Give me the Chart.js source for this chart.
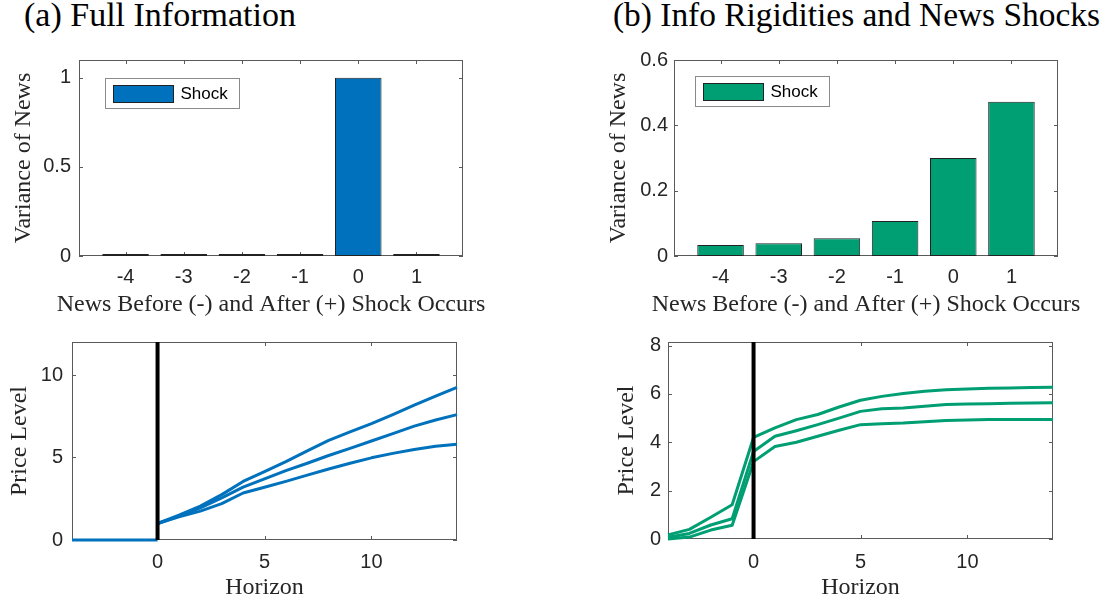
<!DOCTYPE html>
<html>
<head>
<meta charset="utf-8">
<script src="https://cdn.jsdelivr.net/npm/chart.js@4.4.1/dist/chart.umd.min.js"></script>
<style>
  html, body { margin: 0; padding: 0; background: #fff; }
  #fig { position: relative; width: 1109px; height: 603px; overflow: hidden; }
  #fig canvas { position: absolute; }
  .panel-title { position: absolute; top: -2px; font: 34px/1 "Liberation Serif", serif; color: #000; white-space: nowrap; }
</style>
</head>
<body>
<div id="fig">
  <div class="panel-title" style="left:24px">(a) Full Information</div>
  <div class="panel-title" style="left:613px; font-size:33.4px">(b) Info Rigidities and News Shocks</div>
  <canvas id="aTop" width="500" height="290" style="left:0;top:40px"></canvas>
  <canvas id="bTop" width="509" height="290" style="left:600px;top:40px"></canvas>
  <canvas id="aBottom" width="500" height="273" style="left:0;top:330px"></canvas>
  <canvas id="bBottom" width="509" height="273" style="left:600px;top:330px"></canvas>
</div>
<script>
// --- data ---
const NEWS_LAGS = [-4, -3, -2, -1, 0, 1];
const FULL_INFO_VARIANCE = [0, 0, 0, 0, 1, 0];
const RIGID_VARIANCE = [0.034, 0.039, 0.054, 0.107, 0.300, 0.472];

// full information: flat at zero before the shock, jumps at horizon 0
const FULL_PRE_HORIZON = [-4, -3, -2, -1, 0];
const FULL_PRE_PRICE = [0, 0, 0, 0, 0];
const FULL_POST_HORIZON = [0, 1, 2, 3, 4, 5, 6, 7, 8, 9, 10, 11, 12, 13, 14];
const FULL_HIGH = [1, 1.50, 2.05, 2.75, 3.55, 4.15, 4.75, 5.40, 6.04, 6.55, 7.05, 7.60, 8.17, 8.72, 9.25];
const FULL_MID = [1, 1.45, 1.95, 2.55, 3.20, 3.70, 4.20, 4.65, 5.12, 5.55, 6.00, 6.45, 6.90, 7.27, 7.60];
const FULL_LOW = [1, 1.40, 1.75, 2.20, 2.85, 3.20, 3.55, 3.93, 4.30, 4.65, 4.98, 5.25, 5.49, 5.68, 5.80];

// info rigidities: prices start moving before the shock
const RIGID_HORIZON = [-4, -3, -2, -1, 0, 1, 2, 3, 4, 5, 6, 7, 8, 9, 10, 11, 12, 13, 14];
const RIGID_HIGH = [0.17, 0.40, 0.90, 1.42, 4.20, 4.60, 4.94, 5.15, 5.46, 5.74, 5.90, 6.02, 6.11, 6.17, 6.21, 6.24, 6.25, 6.27, 6.28];
const RIGID_MID = [0.07, 0.23, 0.58, 0.84, 3.62, 4.25, 4.48, 4.73, 5.00, 5.28, 5.39, 5.42, 5.49, 5.56, 5.59, 5.60, 5.62, 5.63, 5.64];
const RIGID_LOW = [0.00, 0.08, 0.37, 0.57, 3.20, 3.83, 4.00, 4.25, 4.50, 4.73, 4.77, 4.80, 4.85, 4.90, 4.92, 4.94, 4.94, 4.94, 4.94];

// axis limits and tick labels
const BAR_X_RANGE = [-4.8, 1.8];
const HORIZON_RANGE = [-4, 14];
const HORIZON_TICKS = [0, 5, 10];
const FULL_VAR_RANGE = [0, 1.1];
const FULL_VAR_TICKS = [0, 0.5, 1];
const RIGID_VAR_RANGE = [0, 0.6];
const RIGID_VAR_TICKS = [0, 0.2, 0.4, 0.6];
const FULL_PRICE_RANGE = [0, 12];
const FULL_PRICE_TICKS = [0, 5, 10];
const RIGID_PRICE_RANGE = [0, 8.15];
const RIGID_PRICE_TICKS = [0, 2, 4, 6, 8];

const BLUE = '#0072BD';
const GREEN = '#009E73';
const TICK_COLOR = '#262626';
const BOX_COLOR = '#5a5a5a';
const TICK_FONT = { family: "'Liberation Sans', Arial, sans-serif", size: 20 };
const SERIF = "24px 'Liberation Serif', serif";

// MATLAB-style box with inward ticks on all four sides
const boxAxes = {
  id: 'boxAxes',
  beforeDatasetsDraw(chart) {
    const { ctx, chartArea: a, scales: { x, y } } = chart;
    const len = 4;
    ctx.save();
    ctx.strokeStyle = BOX_COLOR;
    ctx.lineWidth = 1;
    ctx.strokeRect(a.left + 0.5, a.top + 0.5, a.width - 1, a.height - 1);
    ctx.beginPath();
    x.ticks.forEach(t => {
      const px = Math.round(x.getPixelForValue(t.value)) + 0.5;
      ctx.moveTo(px, a.bottom); ctx.lineTo(px, a.bottom - len);
      ctx.moveTo(px, a.top); ctx.lineTo(px, a.top + len);
    });
    y.ticks.forEach(t => {
      const py = Math.round(y.getPixelForValue(t.value)) + 0.5;
      ctx.moveTo(a.left, py); ctx.lineTo(a.left + len, py);
      ctx.moveTo(a.right, py); ctx.lineTo(a.right - len, py);
    });
    ctx.stroke();
    ctx.restore();
  },
};

// serif axis titles (x title is wider than the plot, so draw it ourselves)
const axisTitles = {
  id: 'axisTitles',
  afterDraw(chart, args, o) {
    const { ctx, chartArea: a } = chart;
    ctx.save();
    ctx.font = SERIF;
    ctx.fillStyle = TICK_COLOR;
    ctx.textAlign = 'center';
    ctx.textBaseline = 'middle';
    ctx.fillText(o.x, (a.left + a.right) / 2, a.bottom + o.xGap);
    ctx.translate(o.yAt, (a.top + a.bottom) / 2);
    ctx.rotate(-Math.PI / 2);
    ctx.fillText(o.y, 0, 0);
    ctx.restore();
  },
};

// boxed legend in the upper-left corner of the plot
const boxLegend = {
  id: 'boxLegend',
  afterDatasetsDraw(chart, args, o) {
    if (!o.show) return;
    const { ctx, chartArea: a } = chart;
    const ds = chart.data.datasets[0];
    const x0 = Math.round(a.left + o.dx) + 0.5;
    const y0 = Math.round(a.top + o.dy) + 0.5;
    ctx.save();
    ctx.fillStyle = '#fff';
    ctx.fillRect(x0, y0, 134, 30);
    ctx.strokeStyle = '#8a8a8a';
    ctx.lineWidth = 1;
    ctx.strokeRect(x0, y0, 134, 30);
    ctx.fillStyle = ds.backgroundColor;
    ctx.fillRect(x0 + 8, y0 + 7, 60, 17);
    ctx.strokeStyle = '#222';
    ctx.strokeRect(x0 + 8, y0 + 7, 60, 17);
    ctx.fillStyle = '#000';
    ctx.font = "17px 'Liberation Sans', Arial, sans-serif";
    ctx.textAlign = 'left';
    ctx.textBaseline = 'middle';
    ctx.fillText(ds.label, x0 + 75, y0 + 16);
    ctx.restore();
  },
};

function noEdgePadding(s) {
  s.paddingTop = 0; s.paddingBottom = 0; s.paddingLeft = 0; s.paddingRight = 0;
}

function axis(range, ticks, pad, fitFn) {
  return {
    type: 'linear',
    min: range[0],
    max: range[1],
    offset: false,
    grid: { display: false, drawTicks: false },
    border: { display: false },
    afterBuildTicks: s => { s.ticks = ticks.map(v => ({ value: v })); },
    afterFit: s => { fitFn(s); noEdgePadding(s); },
    ticks: {
      color: TICK_COLOR,
      font: TICK_FONT,
      padding: pad,
      maxRotation: 0,
      autoSkip: false,
      callback: v => String(v),
    },
  };
}

// area = plot rectangle inside the canvas: [left, top, right, bottom]
function panel(id, area, datasets, xs, ys, titles, legend) {
  const cv = document.getElementById(id);
  const W = cv.width, H = cv.height;
  return new Chart(cv, {
    type: datasets[0].type || 'line',
    data: { datasets },
    options: {
      responsive: false,
      animation: false,
      events: [],
      layout: { padding: { left: 0, top: area[1], right: W - area[2], bottom: 0 } },
      scales: {
        x: axis(xs.range, xs.ticks, xs.pad, s => { s.height = H - area[3]; }),
        y: axis(ys.range, ys.ticks, ys.pad, s => { s.width = area[0]; }),
      },
      plugins: {
        legend: { display: false },
        tooltip: { enabled: false },
        axisTitles: titles,
        boxLegend: legend || { show: false },
      },
    },
    plugins: [boxAxes, axisTitles, boxLegend],
  });
}

function barSet(values, color) {
  return {
    type: 'bar',
    label: 'Shock',
    data: NEWS_LAGS.map((x, i) => ({ x, y: values[i] })),
    backgroundColor: color,
    borderColor: '#222',
    borderWidth: 1,
    borderSkipped: false,
    barPercentage: 0.8,
    categoryPercentage: 1,
    minBarLength: 2,
  };
}

function lineSet(xs, ys, color, width) {
  return {
    type: 'line',
    data: xs.map((x, i) => ({ x, y: ys[i] })),
    borderColor: color,
    borderWidth: width,
    pointRadius: 0,
    tension: 0,
    fill: false,
    clip: false,
    borderJoinStyle: 'round',
  };
}

function shockLine(range) {
  return lineSet([0, 0], range, '#000', 4);
}

panel('aTop', [79, 20, 463, 216],
  [barSet(FULL_INFO_VARIANCE, BLUE)],
  { range: BAR_X_RANGE, ticks: NEWS_LAGS, pad: 9 },
  { range: FULL_VAR_RANGE, ticks: FULL_VAR_TICKS, pad: 8 },
  { x: 'News Before (-) and After (+) Shock Occurs', xGap: 49, y: 'Variance of News', yAt: 23.5 },
  { show: true, dx: 26, dy: 18 });

panel('bTop', [74, 20, 458, 216],
  [barSet(RIGID_VARIANCE, GREEN)],
  { range: BAR_X_RANGE, ticks: NEWS_LAGS, pad: 9 },
  { range: RIGID_VAR_RANGE, ticks: RIGID_VAR_TICKS, pad: 6 },
  { x: 'News Before (-) and After (+) Shock Occurs', xGap: 49, y: 'Variance of News', yAt: 18.3 },
  { show: true, dx: 21, dy: 16 });

panel('aBottom', [72, 12, 457, 210],
  [
    shockLine(FULL_PRICE_RANGE),
    lineSet(FULL_PRE_HORIZON, FULL_PRE_PRICE, BLUE, 3),
    lineSet(FULL_POST_HORIZON, FULL_HIGH, BLUE, 3),
    lineSet(FULL_POST_HORIZON, FULL_MID, BLUE, 3),
    lineSet(FULL_POST_HORIZON, FULL_LOW, BLUE, 3),
  ],
  { range: HORIZON_RANGE, ticks: HORIZON_TICKS, pad: 10 },
  { range: FULL_PRICE_RANGE, ticks: FULL_PRICE_TICKS, pad: 9 },
  { x: 'Horizon', xGap: 47.3, y: 'Price Level', yAt: 20 });

panel('bBottom', [68, 12, 453, 209],
  [
    shockLine(RIGID_PRICE_RANGE),
    lineSet(RIGID_HORIZON, RIGID_HIGH, GREEN, 3),
    lineSet(RIGID_HORIZON, RIGID_MID, GREEN, 3),
    lineSet(RIGID_HORIZON, RIGID_LOW, GREEN, 3),
  ],
  { range: HORIZON_RANGE, ticks: HORIZON_TICKS, pad: 11 },
  { range: RIGID_PRICE_RANGE, ticks: RIGID_PRICE_TICKS, pad: 7 },
  { x: 'Horizon', xGap: 48.3, y: 'Price Level', yAt: 26.7 });
</script>
</body>
</html>
